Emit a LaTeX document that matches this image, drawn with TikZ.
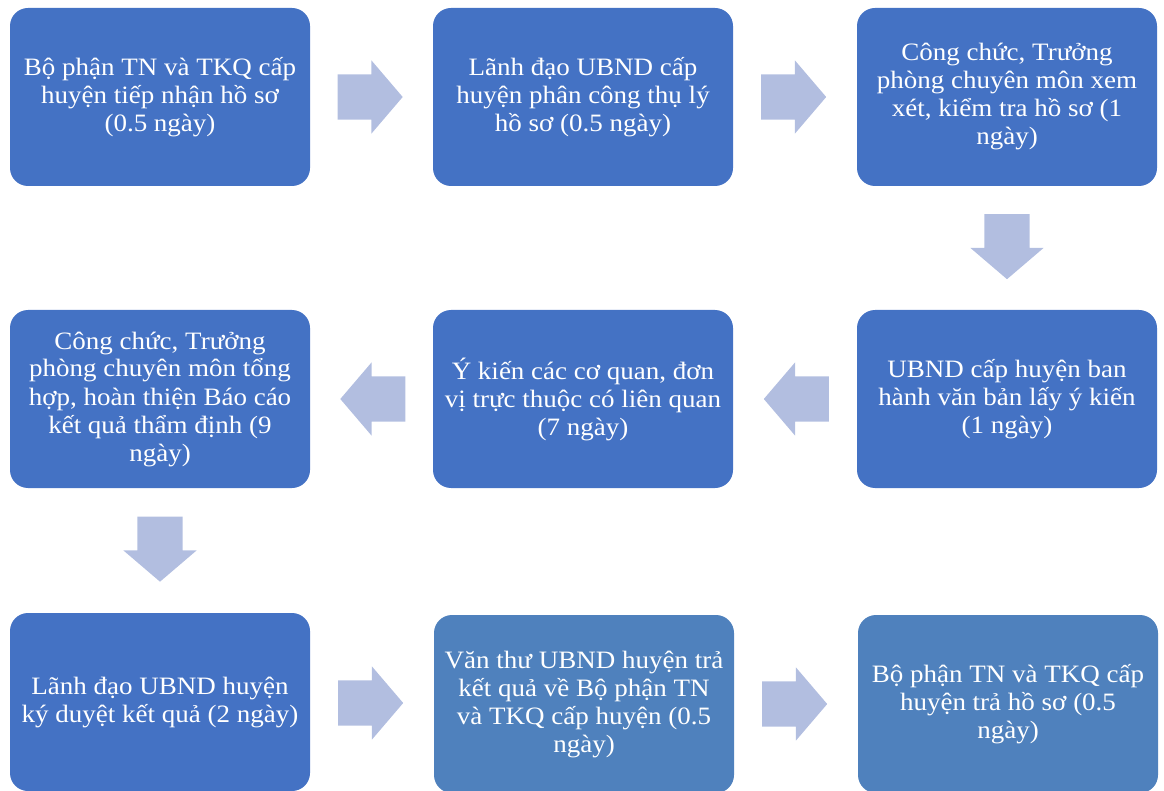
\documentclass[tikz,border=0pt]{standalone}
\usepackage{fontspec}
\setmainfont[FakeStretch=1.08]{Liberation Serif}
\usetikzlibrary{shapes.arrows,calc}
\definecolor{boxblue}{HTML}{4472C4}
\definecolor{boxlight}{HTML}{4F81BD}
\definecolor{arrowblue}{HTML}{B2BEE0}
\begin{document}
\begin{tikzpicture}[x=1pt,y=-1pt,
    stepbox/.style={fill=boxblue,rounded corners=18pt,minimum width=300pt,minimum height=178pt,inner sep=0pt,text=white,align=center,font=\fontsize{25}{28}\selectfont},
    flowarrow/.style={single arrow,fill=arrowblue,draw=none,inner sep=0pt,minimum height=65pt,single arrow head extend=14pt,single arrow tip angle=99},
    rightarrow/.style={flowarrow,xshift=-11pt},
    leftarrow/.style={flowarrow,shape border rotate=180,xshift=11pt},
    downarrow/.style={flowarrow,shape border rotate=270,yshift=11pt}]
    \useasboundingbox(0,0)rectangle(1164,791);
    \node[stepbox](s1)at(160,97){Bộ phận TN và TKQ cấp\\huyện tiếp nhận hồ sơ\\(0.5 ngày)};
    \node[stepbox](s2)at(583,97){Lãnh đạo UBND cấp\\huyện phân công thụ lý\\hồ sơ (0.5 ngày)};
    \node[stepbox](s3)at(1007,97){Công chức, Trưởng\\phòng chuyên môn xem\\xét, kiểm tra hồ sơ (1\\ngày)};
    \node[stepbox](s4)at(1007,399){UBND cấp huyện ban\\hành văn bản lấy ý kiến\\(1 ngày)};
    \node[stepbox](s5)at(583,399){Ý kiến các cơ quan, đơn\\vị trực thuộc có liên quan\\(7 ngày)};
    \node[stepbox](s6)at(160,399){Công chức, Trưởng\\phòng chuyên môn tổng\\hợp, hoàn thiện Báo cáo\\kết quả thẩm định (9\\ngày)};
    \node[stepbox](s7)at(160,702){Lãnh đạo UBND huyện\\ký duyệt kết quả (2 ngày)};
    \node[stepbox,fill=boxlight](s8)at(584,704){Văn thư UBND huyện trả\\kết quả về Bộ phận TN\\và TKQ cấp huyện (0.5\\ngày)};
    \node[stepbox,fill=boxlight](s9)at(1008,704){Bộ phận TN và TKQ cấp\\huyện trả hồ sơ (0.5\\ngày)};
    \node[rightarrow](a1)at($(s1.east)!0.5!(s2.west)$){\rule{0pt}{45pt}};
    \node[rightarrow](a2)at($(s2.east)!0.5!(s3.west)$){\rule{0pt}{45pt}};
    \node[downarrow](a3)at($(s3.south)!0.5!(s4.north)$){\rule{45pt}{0pt}};
    \node[leftarrow](a4)at($(s4.west)!0.5!(s5.east)$){\rule{0pt}{45pt}};
    \node[leftarrow](a5)at($(s5.west)!0.5!(s6.east)$){\rule{0pt}{45pt}};
    \node[downarrow](a6)at($(s6.south)!0.5!(s7.north)$){\rule{45pt}{0pt}};
    \node[rightarrow](a7)at($(s7.east)!0.5!(s8.west)$){\rule{0pt}{45pt}};
    \node[rightarrow](a8)at($(s8.east)!0.5!(s9.west)$){\rule{0pt}{45pt}};
\end{tikzpicture}
\end{document}
